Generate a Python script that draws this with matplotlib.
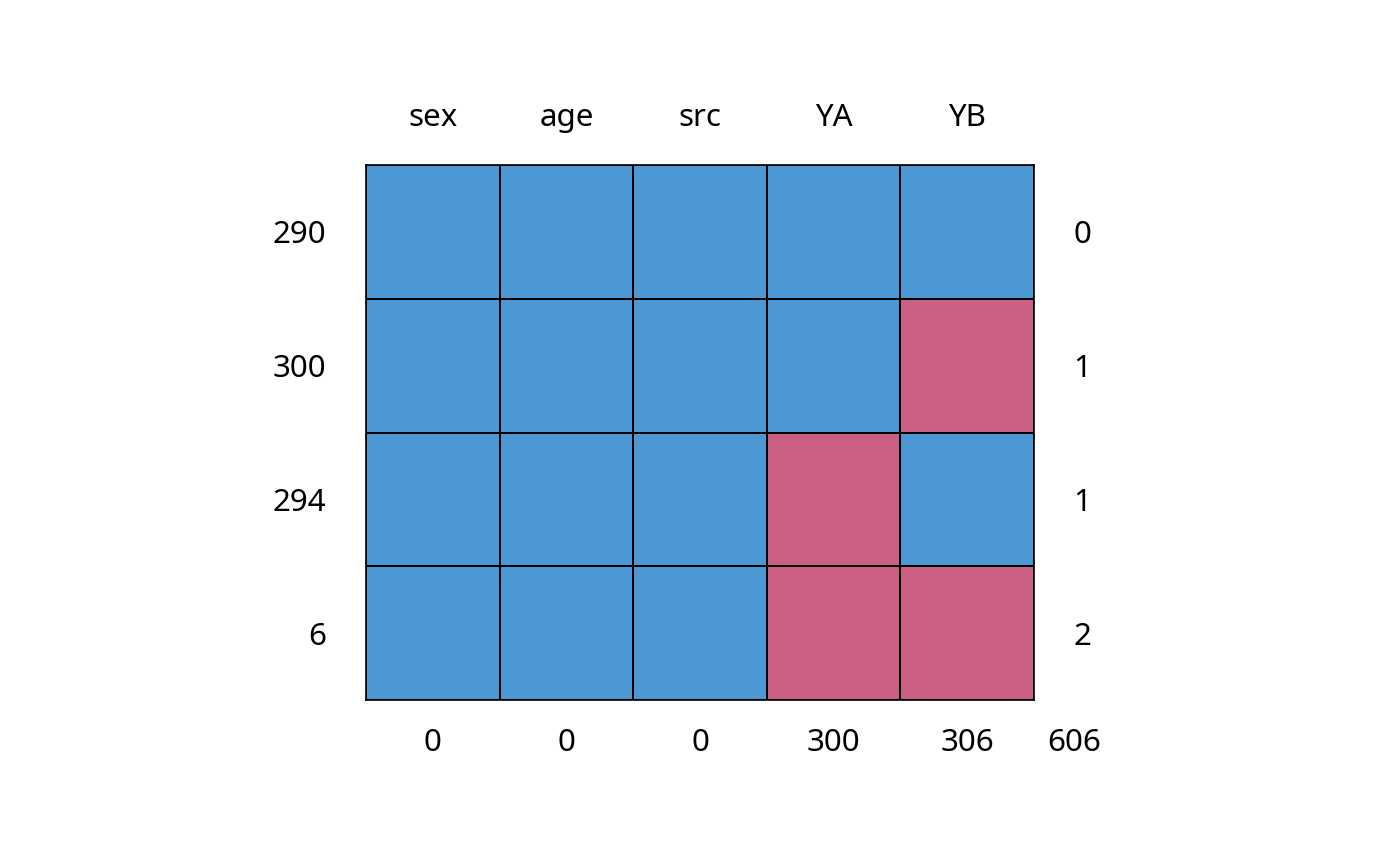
import numpy as np
import matplotlib.pyplot as plt
from matplotlib.colors import ListedColormap

# missing-data pattern (1 = observed, 0 = missing)
variables = ["sex", "age", "src", "YA", "YB"]
pattern = [
    [1, 1, 1, 1, 1],
    [1, 1, 1, 1, 0],
    [1, 1, 1, 0, 1],
    [1, 1, 1, 0, 0],
]
row_counts = [290, 300, 294, 6]
row_missing = [0, 1, 1, 2]
col_missing = [0, 0, 0, 300, 306]
total_missing = 606

blue = "#4C98D4"
pink = "#CB5F84"

plt.rcParams['font.family'] = ['Noto Sans', 'DejaVu Sans']

fig = plt.figure(figsize=(14, 8.66), dpi=100)
ax = fig.add_axes([366/1400, 1 - 700/866, (1034-366)/1400, (700-165)/866])

nr, nc = len(pattern), len(variables)
z = np.array(pattern)[::-1]
ax.pcolormesh(np.arange(nc+1), np.arange(nr+1), z, cmap=ListedColormap([pink, blue]),
              vmin=0, vmax=1, edgecolors="black", linewidth=1.2)
ax.set_xlim(0, nc)
ax.set_ylim(0, nr)
for s in ax.spines.values():
    s.set_linewidth(1.2)
ax.set_xticks([])
ax.set_yticks([])

fs = 22.5
va = "center_baseline"
for j, v in enumerate(variables):
    ax.text(j + 0.5, nr + 0.38, v, ha="center", va=va, fontsize=fs)
    ax.text(j + 0.5, -0.292, str(col_missing[j]), ha="center", va=va, fontsize=fs)
ax.text(nc + 0.30, -0.292, str(total_missing), ha="center", va=va, fontsize=fs)

for i in range(nr):
    y = nr - i - 0.5
    ax.text(-0.30, y, str(row_counts[i]), ha="right", va=va, fontsize=fs)
    ax.text(nc + 0.36, y, str(row_missing[i]), ha="center", va=va, fontsize=fs)

fig.savefig("out.png", dpi=100)
